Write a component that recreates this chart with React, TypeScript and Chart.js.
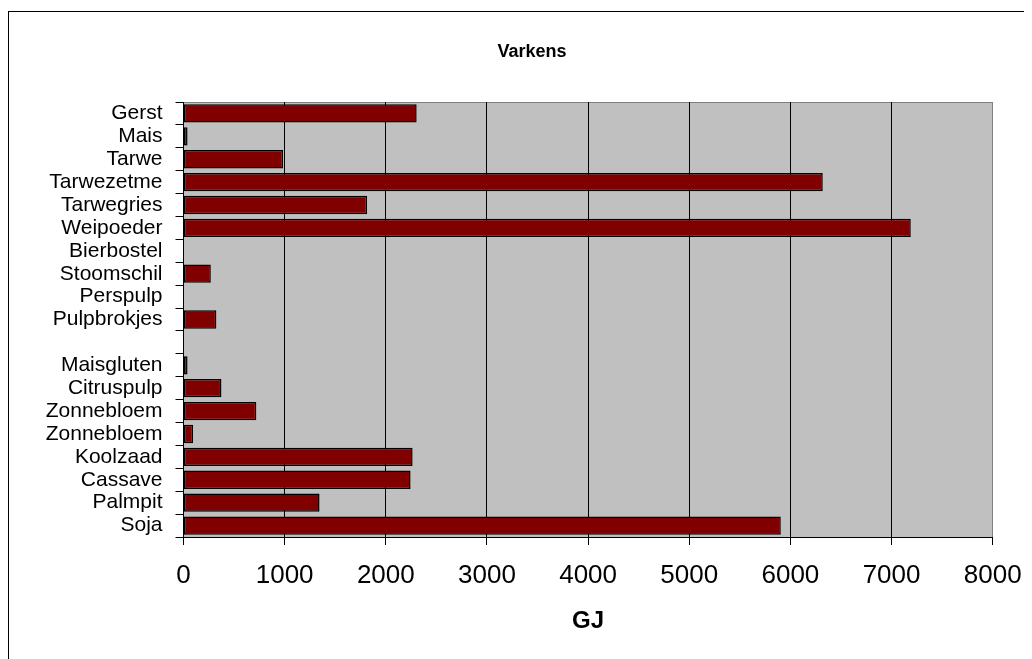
import React, { useEffect, useRef } from "react";
import { Chart, registerables } from "chart.js";

Chart.register(...registerables);

const categories: string[] = [
  "Gerst",
  "Mais",
  "Tarwe",
  "Tarwezetme",
  "Tarwegries",
  "Weipoeder",
  "Bierbostel",
  "Stoomschil",
  "Perspulp",
  "Pulpbrokjes",
  "",
  "Maisgluten",
  "Citruspulp",
  "Zonnebloem",
  "Zonnebloem",
  "Koolzaad",
  "Cassave",
  "Palmpit",
  "Soja",
];

const gjValues: (number | null)[] = [
  2305, 40, 985, 6320, 1815, 7190, null, 270, null, 325, null, 40, 375, 720, 95,
  2265, 2245, 1345, 5905,
];

const xTicks: number[] = [0, 1000, 2000, 3000, 4000, 5000, 6000, 7000, 8000];

const chartTitle = "Varkens";
const xTitle = "GJ";

const FONT = "'Liberation Sans', Arial, sans-serif";

const plotBg = {
  id: "plotBg",
  beforeDraw(chart: any) {
    const { ctx, chartArea } = chart;
    const { left, top, right, bottom } = chartArea;
    ctx.save();
    ctx.fillStyle = "#C0C0C0";
    ctx.fillRect(left, top, right - left, bottom - top);
    ctx.strokeStyle = "#808080";
    ctx.lineWidth = 1;
    ctx.beginPath();
    ctx.moveTo(left, Math.round(top) + 0.5);
    ctx.lineTo(Math.round(right) - 0.5, Math.round(top) + 0.5);
    ctx.lineTo(Math.round(right) - 0.5, bottom);
    ctx.stroke();
    ctx.restore();
  },
};

// Excel centres the chart title over the whole chart object (the canvas)
const chartTitlePlugin = {
  id: "chartTitleCentered",
  afterDraw(chart: any) {
    const { ctx } = chart;
    ctx.save();
    ctx.fillStyle = "#000";
    ctx.font = `bold 18px ${FONT}`;
    ctx.textAlign = "center";
    ctx.textBaseline = "middle";
    ctx.fillText(chartTitle, chart.width / 2, 44);
    ctx.restore();
  },
};

export default function App() {
  const canvasRef = useRef<HTMLCanvasElement | null>(null);

  useEffect(() => {
    if (!canvasRef.current) return;
    const chart = new Chart(canvasRef.current, {
      type: "bar",
      data: {
        labels: categories,
        datasets: [
          {
            label: xTitle,
            data: gjValues,
            backgroundColor: "#800000",
            borderColor: "#000000",
            borderWidth: 1.5,
            borderSkipped: false,
            barPercentage: 0.8,
            categoryPercentage: 1,
          },
        ],
      },
      options: {
        indexAxis: "y",
        animation: false,
        responsive: false,
        maintainAspectRatio: false,
        layout: { padding: { left: 4, right: 63.3, top: 94, bottom: 23 } },
        plugins: {
          legend: { display: false },
          tooltip: { enabled: false },
          title: { display: false },
        },
        scales: {
          x: {
            type: "linear",
            min: 0,
            max: 8000,
            afterBuildTicks(scale: any) {
              scale.ticks = xTicks.map((v) => ({ value: v }));
            },
            afterFit(scale: any) {
              scale.height = 99;
            },
            ticks: {
              color: "#000",
              padding: 15,
              font: { family: FONT, size: 26 },
              maxRotation: 0,
              callback: (v: any) => String(v),
            },
            grid: {
              color: (ctx: any) =>
                ctx.tick && ctx.tick.value === 8000 ? "#808080" : "#000000",
              lineWidth: 1,
              drawTicks: true,
              tickLength: 8,
              tickColor: "#000000",
            },
            border: { display: true, color: "#000000", width: 1 },
            title: {
              display: true,
              text: xTitle,
              color: "#000",
              font: { family: FONT, size: 24, weight: "bold" },
              padding: { top: 0, bottom: 0 },
            },
          },
          y: {
            type: "category",
            afterFit(scale: any) {
              scale.width = 171.5;
            },
            ticks: {
              color: "#000",
              padding: 13,
              autoSkip: false,
              font: { family: FONT, size: 21 },
            },
            grid: {
              display: true,
              offset: true,
              drawOnChartArea: false,
              drawTicks: true,
              tickLength: 8,
              tickColor: "#000000",
            },
            border: { display: true, color: "#000000", width: 1 },
          },
        },
      },
      plugins: [plotBg, chartTitlePlugin],
    });
    return () => chart.destroy();
  }, []);

  return (
    <div
      style={{
        position: "relative",
        width: 1024,
        height: 651,
        overflow: "hidden",
      }}
    >
      <div
        style={{
          position: "absolute",
          left: 0,
          top: 3,
          width: 1048,
          height: 2000,
          border: "1px solid #000",
          boxSizing: "border-box",
        }}
      />
      <canvas
        ref={canvasRef}
        width={1048}
        height={651}
        style={{ position: "absolute", left: 0, top: 0, width: 1048, height: 651 }}
      />
    </div>
  );
}
